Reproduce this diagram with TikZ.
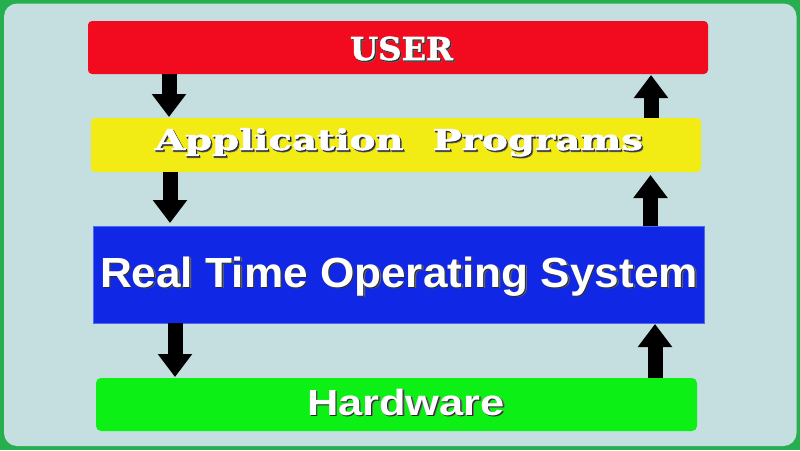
\documentclass[tikz,border=0pt]{standalone}
\usepackage{fontspec}
\usepackage{graphicx}
\usetikzlibrary{arrows.meta}
\newfontfamily\sansfnt{Liberation Sans}
\newfontfamily\seriffnt{DejaVu Serif}[BoldFeatures={FakeBold=1.6}]
\definecolor{bordergreen}{HTML}{27AE4F}
\definecolor{bgc}{HTML}{C5DFE0}
\definecolor{userred}{HTML}{F20A1E}
\definecolor{appyellow}{HTML}{F2EC14}
\definecolor{osblue}{HTML}{1028E6}
\definecolor{osedge}{HTML}{4A6AF0}
\definecolor{hwgreen}{HTML}{0DF015}
\definecolor{shadowc}{HTML}{2A2A2A}
\newcommand\fittext[4]{\sbox0{#1#4}\sbox2{#1H}%
  \pgfmathsetmacro\fxs{#2/\the\wd0}\pgfmathsetmacro\fys{#3/\the\ht2}%
  \rlap{\kern1.6pt\raisebox{-1.8pt}{\scalebox{\fxs}[\fys]{\textcolor{shadowc!70}{#1#4}}}}%
  \rlap{\kern1.0pt\raisebox{-1.1pt}{\scalebox{\fxs}[\fys]{\textcolor{shadowc}{#1#4}}}}%
  \scalebox{\fxs}[\fys]{\textcolor{white}{#1#4}}}
\tikzset{
  layerbox/.style={minimum width=#1, inner sep=0pt, outer sep=0pt},
  flow/.style={line width=15pt, draw=black, -{Triangle[width=33pt,length=23pt]}},
  lbl/.style={anchor=base west, inner sep=0pt, outer sep=0pt}
}
\begin{document}
\begin{tikzpicture}[x=1pt,y=-1pt]
\useasboundingbox (0,0) rectangle (800,450);
% frame
\fill[bordergreen] (0,0) rectangle (800,450);
\fill[bgc, rounded corners=13pt] (4,3.5) rectangle (796.5,446);
% layers
\node[layerbox=620pt, minimum height=53pt, fill=userred, rounded corners=4pt] (user) at (398,47.5) {};
\node[layerbox=610pt, minimum height=54pt, fill=appyellow, rounded corners=4pt] (app) at (396,145) {};
\node[layerbox=611pt, minimum height=97pt, fill=osblue, draw=osedge, line width=0.6pt] (rtos) at (398.5,274.5) {};
\node[layerbox=601pt, minimum height=53pt, fill=hwgreen, rounded corners=5pt] (hw) at (396.5,404.5) {};
% labels
\node[lbl] (userlbl) at (350,60) {\fittext{\seriffnt\bfseries}{103}{23}{USER}};
\node[lbl] (applbl) at (155,150) {\fittext{\seriffnt\bfseries}{488}{21}{Application\hspace{0.75em}Programs}};
\node[lbl] (rtoslbl) at (100,287) {\fittext{\sansfnt\bfseries}{598}{29}{Real Time Operating System}};
\node[lbl] (hwlbl) at (307,415) {\fittext{\sansfnt\bfseries}{198}{25}{Hardware}};
% arrow columns
\coordinate (xa) at (169,0);
\coordinate (xb) at (170,0);
\coordinate (xc) at (175,0);
\coordinate (xd) at (651,0);
\coordinate (xe) at (650.5,0);
\coordinate (xf) at (655,0);
% down arrows
\draw[flow, shorten >=1pt] (user.south -| xa) -- (app.north -| xa);
\draw[flow, shorten >=3pt] (app.south -| xb) -- (rtos.north -| xb);
\draw[flow, shorten >=1pt] (rtos.south -| xc) -- (hw.north -| xc);
% up arrows
\draw[flow, shorten >=1pt] (app.north -| xd) -- (user.south -| xd);
\draw[flow, shorten >=3pt] (rtos.north -| xe) -- (app.south -| xe);
\draw[flow, shorten >=1pt] (hw.north -| xf) -- (rtos.south -| xf);
\end{tikzpicture}
\end{document}
